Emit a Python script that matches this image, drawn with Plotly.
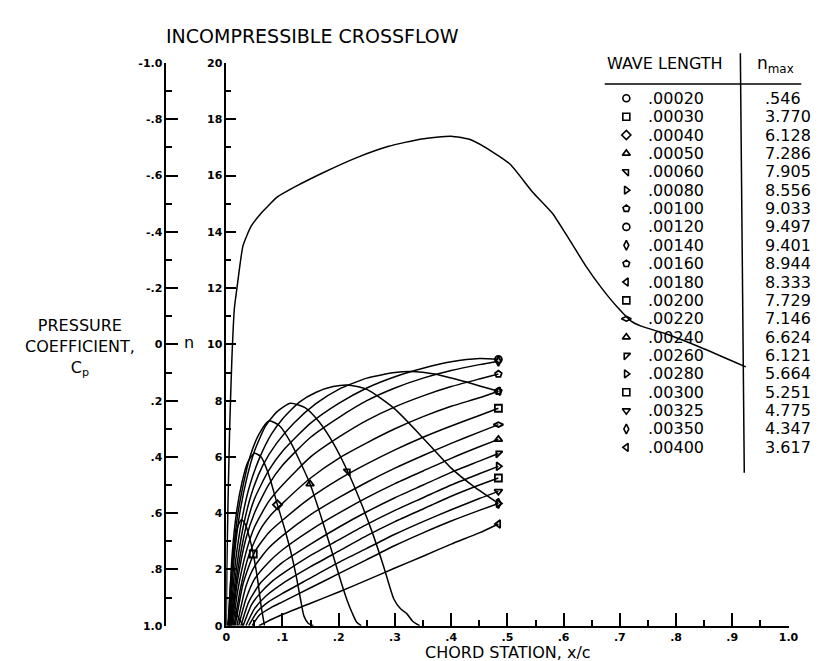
import plotly.graph_objects as go

# ---------------- data ----------------
wave_lengths = [".00020", ".00030", ".00040", ".00050", ".00060", ".00080", ".00100",
                ".00120", ".00140", ".00160", ".00180", ".00200", ".00220", ".00240",
                ".00260", ".00280", ".00300", ".00325", ".00350", ".00400"]
n_max = [".546", "3.770", "6.128", "7.286", "7.905", "8.556", "9.033", "9.497", "9.401",
         "8.944", "8.333", "7.729", "7.146", "6.624", "6.121", "5.664", "5.251", "4.775",
         "4.347", "3.617"]

# n-factor curves (x/c, n), one per wave length
c00020_x = [0.002, 0.006, 0.012, 0.02, 0.03]
c00020_n = [0, 0.35, 0.546, 0.35, 0]
c00030_x = [0.003, 0.008, 0.014, 0.02, 0.027, 0.034, 0.041, 0.048, 0.056, 0.062, 0.068]
c00030_n = [0, 1.6, 2.8, 3.5, 3.77, 3.6, 3.15, 2.55, 1.6, 0.7, 0]
c00040_x = [0.004, 0.01, 0.018, 0.028, 0.038, 0.05, 0.062, 0.075, 0.091, 0.103, 0.114, 0.124, 0.132, 0.138, 0.146, 0.155]
c00040_n = [0, 2.4, 4.0, 5.1, 5.8, 6.128, 6.0, 5.4, 4.3, 3.5, 2.69, 1.8, 0.95, 0.35, 0.08, 0]
c00050_x = [0.005, 0.012, 0.02, 0.03, 0.042, 0.058, 0.076, 0.095, 0.115, 0.132, 0.149, 0.165, 0.187, 0.205, 0.215, 0.224, 0.232, 0.24]
c00050_n = [0, 2.4, 3.9, 5.0, 6.0, 6.8, 7.286, 7.1, 6.5, 5.8, 5.04, 4.1, 2.69, 1.5, 0.9, 0.45, 0.12, 0]
c00060_x = [0.006, 0.014, 0.024, 0.036, 0.05, 0.07, 0.09, 0.114, 0.14, 0.165, 0.19, 0.216, 0.24, 0.26, 0.28, 0.298, 0.31, 0.321, 0.332, 0.344]
c00060_n = [0, 2.4, 4.0, 5.2, 6.2, 7.1, 7.6, 7.905, 7.75, 7.25, 6.5, 5.48, 4.35, 3.3, 2.1, 0.95, 0.6, 0.43, 0.15, 0]
c00080_x = [0.007, 0.016, 0.028, 0.042, 0.06, 0.08, 0.1, 0.13, 0.16, 0.19, 0.216, 0.25, 0.3, 0.344, 0.4, 0.44, 0.484]
c00080_n = [0, 2.2, 3.8, 5.0, 6.0, 6.8, 7.35, 7.95, 8.3, 8.5, 8.556, 8.4, 7.7, 6.8, 5.6, 4.95, 4.347]
c00100_x = [0.008, 0.018, 0.03, 0.045, 0.065, 0.09, 0.12, 0.16, 0.2, 0.25, 0.3, 0.33, 0.37, 0.42, 0.484]
c00100_n = [0, 2.0, 3.5, 4.7, 5.7, 6.5, 7.2, 7.9, 8.4, 8.8, 9.0, 9.033, 8.95, 8.7, 8.333]
c00120_x = [0.009, 0.02, 0.035, 0.05, 0.075, 0.1, 0.15, 0.2, 0.25, 0.3, 0.35, 0.4, 0.45, 0.484]
c00120_n = [0, 1.9, 3.5, 4.5, 5.5, 6.2, 7.2, 7.9, 8.45, 8.85, 9.15, 9.38, 9.497, 9.47]
c00140_x = [0.01, 0.02, 0.035, 0.05, 0.075, 0.1, 0.15, 0.2, 0.25, 0.3, 0.35, 0.4, 0.45, 0.484]
c00140_n = [0, 1.6, 3.1, 4.0, 5.0, 5.7, 6.7, 7.4, 8.0, 8.45, 8.8, 9.07, 9.28, 9.401]
c00160_x = [0.012, 0.02, 0.035, 0.05, 0.075, 0.1, 0.15, 0.2, 0.25, 0.3, 0.35, 0.4, 0.45, 0.484]
c00160_n = [0, 1.2, 2.6, 3.5, 4.4, 5.0, 6.0, 6.7, 7.3, 7.78, 8.17, 8.5, 8.77, 8.944]
c00180_x = [0.014, 0.025, 0.04, 0.06, 0.08, 0.1, 0.15, 0.2, 0.25, 0.3, 0.35, 0.4, 0.45, 0.484]
c00180_n = [0, 1.3, 2.5, 3.4, 3.95, 4.35, 5.25, 5.95, 6.5, 7.0, 7.43, 7.8, 8.1, 8.333]
c00200_x = [0.016, 0.03, 0.05, 0.075, 0.1, 0.15, 0.2, 0.25, 0.3, 0.35, 0.4, 0.45, 0.484]
c00200_n = [0, 1.5, 2.6, 3.3, 3.75, 4.55, 5.2, 5.75, 6.25, 6.7, 7.1, 7.47, 7.729]
c00220_x = [0.019, 0.035, 0.05, 0.075, 0.1, 0.15, 0.2, 0.25, 0.3, 0.35, 0.4, 0.45, 0.484]
c00220_n = [0, 1.4, 2.1, 2.75, 3.2, 3.95, 4.55, 5.1, 5.6, 6.05, 6.48, 6.88, 7.146]
c00240_x = [0.022, 0.035, 0.05, 0.075, 0.1, 0.15, 0.2, 0.25, 0.3, 0.35, 0.4, 0.45, 0.484]
c00240_n = [0, 0.95, 1.65, 2.25, 2.7, 3.4, 4.0, 4.55, 5.05, 5.5, 5.95, 6.36, 6.624]
c00260_x = [0.026, 0.04, 0.06, 0.08, 0.1, 0.15, 0.2, 0.25, 0.3, 0.35, 0.4, 0.45, 0.484]
c00260_n = [0, 0.85, 1.5, 1.9, 2.25, 2.9, 3.5, 4.05, 4.55, 5.0, 5.45, 5.85, 6.121]
c00280_x = [0.03, 0.045, 0.06, 0.08, 0.1, 0.15, 0.2, 0.25, 0.3, 0.35, 0.4, 0.45, 0.484]
c00280_n = [0, 0.75, 1.15, 1.55, 1.85, 2.5, 3.05, 3.6, 4.1, 4.55, 5.0, 5.4, 5.664]
c00300_x = [0.035, 0.05, 0.07, 0.1, 0.15, 0.2, 0.25, 0.3, 0.35, 0.4, 0.45, 0.484]
c00300_n = [0, 0.6, 1.05, 1.5, 2.1, 2.65, 3.2, 3.7, 4.15, 4.6, 5.0, 5.251]
c00325_x = [0.04, 0.055, 0.075, 0.1, 0.15, 0.2, 0.25, 0.3, 0.35, 0.4, 0.45, 0.484]
c00325_n = [0, 0.5, 0.85, 1.15, 1.7, 2.25, 2.75, 3.25, 3.7, 4.12, 4.52, 4.775]
c00350_x = [0.046, 0.06, 0.08, 0.1, 0.15, 0.2, 0.25, 0.3, 0.35, 0.4, 0.45, 0.484]
c00350_n = [0, 0.4, 0.65, 0.85, 1.35, 1.85, 2.35, 2.85, 3.3, 3.72, 4.1, 4.347]
c00400_x = [0.058, 0.08, 0.1, 0.15, 0.2, 0.25, 0.3, 0.35, 0.4, 0.45, 0.484]
c00400_n = [0, 0.22, 0.4, 0.8, 1.2, 1.62, 2.05, 2.47, 2.9, 3.3, 3.617]

# marker point on each curve
marker_x = [0.012, 0.048, 0.091, 0.149, 0.216, 0.484, 0.484, 0.484, 0.484, 0.484,
            0.484, 0.484, 0.484, 0.484, 0.484, 0.484, 0.484, 0.484, 0.484, 0.484]
marker_n = [0.546, 2.55, 4.3, 5.04, 5.48, 4.347, 8.333, 9.47, 9.401, 8.944,
            8.333, 7.729, 7.146, 6.624, 6.121, 5.664, 5.251, 4.775, 4.347, 3.617]
marker_symbols = ["circle-open", "square-open", "diamond-open", "triangle-up-open",
                  "triangle-ne-open", "triangle-right-open", "pentagon-open", "circle-open",
                  "diamond-tall-open", "pentagon-open", "triangle-left-open", "square-open",
                  "diamond-wide-open", "triangle-up-open", "triangle-nw-open",
                  "triangle-right-open", "square-open", "triangle-down-open",
                  "diamond-tall-open", "triangle-left-open"]

# pressure coefficient distribution
cp_x = [0.0, 0.001, 0.003, 0.006, 0.01, 0.0145, 0.019, 0.0297, 0.044, 0.062, 0.091, 0.126,
        0.173, 0.231, 0.289, 0.347, 0.40, 0.435, 0.476, 0.505, 0.545, 0.58, 0.61, 0.639,
        0.668, 0.697, 0.72, 0.738, 0.784, 0.843, 0.924]
cp_val = [1.0, 0.8, 0.57, 0.3, 0.05, -0.13, -0.2, -0.35, -0.419, -0.466, -0.524, -0.564,
          -0.611, -0.663, -0.704, -0.73, -0.74, -0.727, -0.681, -0.64, -0.541, -0.466,
          -0.373, -0.28, -0.199, -0.129, -0.083, -0.065, -0.036, 0.01, 0.08]

x_ticks = [0, 0.1, 0.2, 0.3, 0.4, 0.5, 0.6, 0.7, 0.8, 0.9, 1.0]
x_ticktext = ["0", ".1", ".2", ".3", ".4", ".5", ".6", ".7", ".8", ".9", "1.0"]
n_ticks = [0, 2, 4, 6, 8, 10, 12, 14, 16, 18, 20]
cp_ticks = [-1.0, -0.8, -0.6, -0.4, -0.2, 0, 0.2, 0.4, 0.6, 0.8, 1.0]
cp_ticktext = ["-1.0", "-.8", "-.6", "-.4", "-.2", "0", ".2", ".4", ".6", ".8", "1.0"]

curves_x = [c00020_x, c00030_x, c00040_x, c00050_x, c00060_x, c00080_x, c00100_x,
            c00120_x, c00140_x, c00160_x, c00180_x, c00200_x, c00220_x, c00240_x,
            c00260_x, c00280_x, c00300_x, c00325_x, c00350_x, c00400_x]
curves_n = [c00020_n, c00030_n, c00040_n, c00050_n, c00060_n, c00080_n, c00100_n,
            c00120_n, c00140_n, c00160_n, c00180_n, c00200_n, c00220_n, c00240_n,
            c00260_n, c00280_n, c00300_n, c00325_n, c00350_n, c00400_n]

# ---------------- figure ----------------
W, H = 820, 661
FONT = "DejaVu Sans"


def fx(p):
    return p / W


def fy(p):
    return 1 - p / H


fig = go.Figure()

for cx, cn in zip(curves_x, curves_n):
    fig.add_trace(go.Scatter(x=cx, y=cn, mode="lines",
                             line=dict(color="black", width=1.5, shape="spline", smoothing=0.6),
                             hoverinfo="skip", showlegend=False))

for mx, mn, ms in zip(marker_x, marker_n, marker_symbols):
    fig.add_trace(go.Scatter(x=[mx], y=[mn], mode="markers",
                             marker=dict(symbol=ms, size=7, color="black",
                                         line=dict(width=1.8, color="black")),
                             hoverinfo="skip", showlegend=False))

fig.add_trace(go.Scatter(x=cp_x, y=cp_val, yaxis="y2", mode="lines",
                         line=dict(color="black", width=1.5, shape="spline", smoothing=0.5),
                         hoverinfo="skip", showlegend=False))

# table symbols (overlay axes in pixel units)
row_y0, row_dy = 86, 18.74
row_y = [row_y0 + i * row_dy for i in range(len(wave_lengths))]
fig.add_trace(go.Scatter(x=[625] * len(row_y), y=row_y, xaxis="x2", yaxis="y3",
                         mode="markers",
                         marker=dict(symbol=marker_symbols, size=7, color="black",
                                     line=dict(width=1.6, color="black")),
                         hoverinfo="skip", showlegend=False))

annotations = []


def txt(text, x, y, size, xanchor="center", weight="normal"):
    annotations.append(dict(text=text, x=fx(x), y=fy(y), xref="paper", yref="paper",
                            xanchor=xanchor, yanchor="middle", showarrow=False,
                            font=dict(family=FONT, size=size, color="black", weight=weight)))


txt("INCOMPRESSIBLE CROSSFLOW", 306, 22, 19)
txt("WAVE LENGTH", 603, 50, 16, xanchor="left")
txt("n<sub>max</sub>", 756, 52, 17, xanchor="left")
for i, (wl, nm) in enumerate(zip(wave_lengths, n_max)):
    txt(wl, 645, row_y[i], 16, xanchor="left")
    txt(nm, 764, row_y[i], 16, xanchor="left")
txt("PRESSURE<br>COEFFICIENT,<br>C<sub>p</sub>", 69, 340, 16)
txt("n", 180, 335, 16)
txt("CHORD STATION, x/c", 505, 651, 16)

shapes = [
    dict(type="line", xref="paper", yref="paper", x0=fx(603), x1=fx(803), y0=fy(71.5), y1=fy(71.5),
         line=dict(color="black", width=1.5)),
    dict(type="line", xref="paper", yref="paper", x0=fx(741), x1=fx(745), y0=fy(40), y1=fy(468),
         line=dict(color="black", width=1.5)),
]

tickfont = dict(family=FONT, size=11, color="black", weight="bold")
axis_common = dict(showline=True, linecolor="black", linewidth=1.5, showgrid=False,
                   zeroline=False, ticks="inside", tickcolor="black", tickwidth=1.5,
                   tickfont=tickfont, fixedrange=True)

fig.update_layout(
    width=W, height=H,
    margin=dict(l=0, r=0, t=0, b=0),
    paper_bgcolor="white", plot_bgcolor="rgba(0,0,0,0)",
    showlegend=False,
    xaxis=dict(domain=[218 / W, 790 / W], range=[0, 1.0], anchor="y",
               tickmode="array", tickvals=x_ticks, ticktext=x_ticktext, ticklen=13,
               minor=dict(dtick=0.05, tick0=0, ticks="inside", ticklen=6, tickwidth=1.5,
                          tickcolor="black"),
               **axis_common),
    yaxis=dict(domain=[1 - 624 / H, 1 - 50 / H], range=[0, 20], anchor="x",
               tickmode="array", tickvals=n_ticks, ticklen=10,
               minor=dict(dtick=1, tick0=0, ticks="inside", ticklen=5, tickwidth=1.5,
                          tickcolor="black"),
               **axis_common),
    yaxis2=dict(overlaying="y", anchor="free", position=156 / W, side="left", range=[1, -1],
                tickmode="array", tickvals=cp_ticks, ticktext=cp_ticktext, ticklen=12,
                minor=dict(dtick=0.1, tick0=0, ticks="inside", ticklen=6, tickwidth=1.5,
                           tickcolor="black"),
                **axis_common),
    xaxis2=dict(domain=[0, 1], range=[0, W], visible=False, anchor="y3", fixedrange=True),
    yaxis3=dict(domain=[0, 1], range=[H, 0], visible=False, anchor="x2", fixedrange=True),
    annotations=annotations,
    shapes=shapes,
)

fig.write_html("out.html")
